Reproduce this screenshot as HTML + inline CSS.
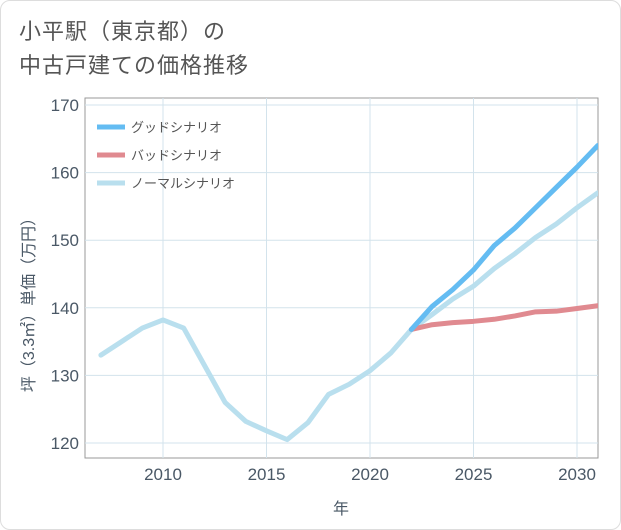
<!DOCTYPE html>
<html><head><meta charset="utf-8">
<style>
body{margin:0;background:#fff;}
#wrap{position:relative;width:619px;height:528px;border:1px solid #ddd;border-radius:10px;background:#fff;font-family:"Liberation Sans","Noto Sans CJK JP",sans-serif;overflow:hidden}
#title{position:absolute;left:18px;top:14px;font-size:22px;line-height:34px;color:#555;letter-spacing:1px}
svg{position:absolute;left:0;top:0}
</style></head><body>
<div id="wrap">
<div id="title">小平駅（東京都）の<br>中古戸建ての価格推移</div>
<svg id="c" width="621" height="530"></svg>
</div>
<script>
const years=[2007,2008,2009,2010,2011,2012,2013,2014,2015,2016,2017,2018,2019,2020,2021,2022,2023,2024,2025,2026,2027,2028,2029,2030,2031];
const normal=[133,135,137,138.2,137,131.5,126,123.2,121.8,120.5,123,127.2,128.7,130.7,133.3,136.8,139,141.3,143.2,145.8,148,150.4,152.4,154.8,157];
const goodYears=[2022,2023,2024,2025,2026,2027,2028,2029,2030,2031];
const good=[136.8,140.2,142.7,145.6,149.2,151.8,154.8,157.8,160.8,164];
const bad=[136.8,137.5,137.8,138,138.3,138.8,139.4,139.5,139.9,140.3];
const xTicks=[2010,2015,2020,2025,2030];
const yTicks=[120,130,140,150,160,170];
const L=84,R=597,T=97,B=457;
const X=v=>162+(v-2010)*20.7;
const Y=v=>442-(v-120)*6.76;
const svg=document.getElementById('c');
const NS='http://www.w3.org/2000/svg';
function mk(t,a){const e=document.createElementNS(NS,t);for(const k in a)e.setAttribute(k,a[k]);svg.appendChild(e);return e;}
const bg=mk('rect',{x:L,y:T,width:R-L,height:B-T,fill:'#fff',stroke:'#999','stroke-width':1});


xTicks.forEach(t=>{
 const g=mk('line',{x1:X(t),x2:X(t),y1:T,y2:B,stroke:'#d3e3ec','stroke-width':1});
 
 
 const tx=mk('text',{x:X(t),y:479,'text-anchor':'middle','font-size':17,fill:'#4a5866'});
 tx.textContent=t;
 
 
});
yTicks.forEach(t=>{
 const g=mk('line',{x1:L,x2:R,y1:Y(t),y2:Y(t),stroke:'#d3e3ec','stroke-width':1});
 
 
 const tx=mk('text',{x:78,y:Y(t)+6,'text-anchor':'end','font-size':17,fill:'#4a5866'});
 tx.textContent=t;
 
 
});
function line(xs,vs,color,name){
 const p=mk('polyline',{points:xs.map((x,i)=>X(x)+','+Y(vs[i])).join(' '),fill:'none',stroke:color,'stroke-width':5,'stroke-linejoin':'round','stroke-linecap':'round','clip-path':'url(#clip)'});
 
 
}
const defs=mk('defs',{});
const cp=document.createElementNS(NS,'clipPath');cp.setAttribute('id','clip');
const cr=document.createElementNS(NS,'rect');cr.setAttribute('x',L);cr.setAttribute('y',T);cr.setAttribute('width',R-L);cr.setAttribute('height',B-T);
cp.appendChild(cr);defs.appendChild(cp);
line(years,normal,'#b9dfee','normal-scenario-line');
line(goodYears,bad,'#e08a90','bad-scenario-line');
line(goodYears,good,'#64bcf2','good-scenario-line');
const leg=[['グッドシナリオ','#64bcf2'],['バッドシナリオ','#e08a90'],['ノーマルシナリオ','#b9dfee']];
leg.forEach((l,i)=>{
 const y=126+i*28;
 const s=mk('line',{x1:96,x2:124,y1:y,y2:y,stroke:l[1],'stroke-width':5});
 
 
 const t=mk('text',{x:130,y:y+5,'font-size':13,fill:'#555'});
 t.textContent=l[0];
 
 
});
const xt=mk('text',{x:340,y:513,'text-anchor':'middle','font-size':16,fill:'#4a5866'});
xt.textContent='年';


const yt=mk('text',{x:0,y:0,'text-anchor':'middle','font-size':16,fill:'#4a5866',transform:'translate(33,300) rotate(-90)'});
yt.textContent='坪（3.3㎡）単価（万円）';


</script>
</body></html>
